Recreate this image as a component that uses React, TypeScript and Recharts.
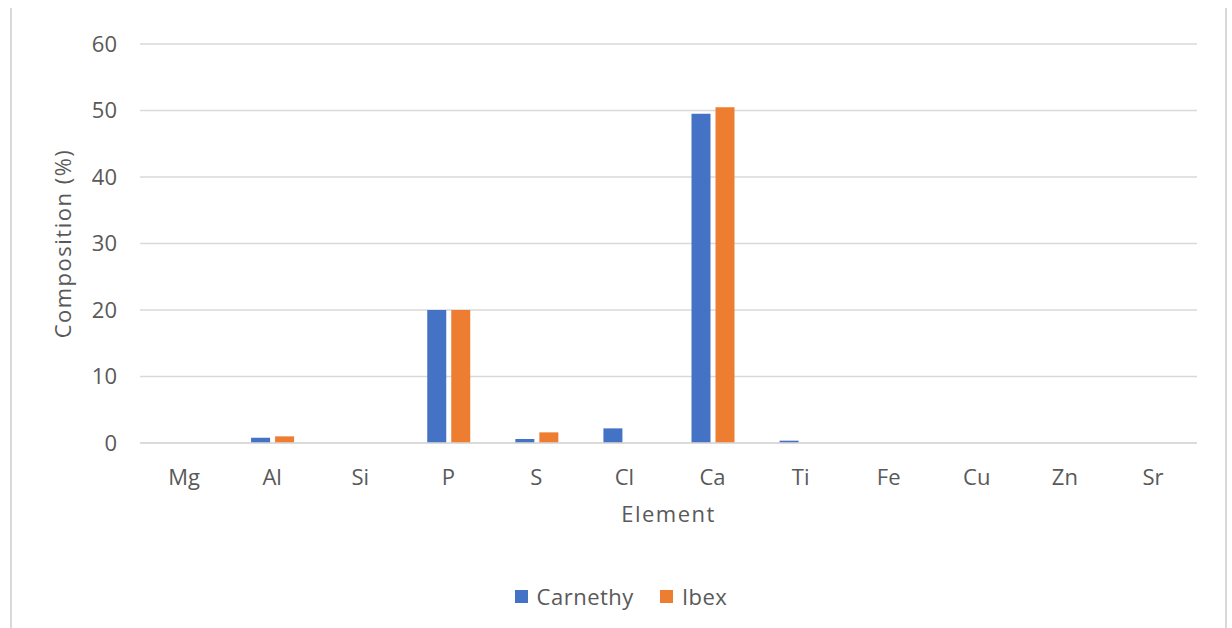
import React from 'react';
import {
  BarChart, Bar, XAxis, YAxis, CartesianGrid, Legend
} from 'recharts';

// element composition by site, in percent
const elements = ['Mg', 'Al', 'Si', 'P', 'S', 'Cl', 'Ca', 'Ti', 'Fe', 'Cu', 'Zn', 'Sr'];
const carnethy = [0, 0.8, 0, 20, 0.6, 2.2, 49.5, 0.35, 0, 0, 0, 0];
const ibex = [0, 1.0, 0, 20, 1.6, 0, 50.5, 0, 0, 0, 0, 0];
const yTicks = [0, 10, 20, 30, 40, 50, 60];

const BLUE = '#4472C4';
const ORANGE = '#ED7D31';
const TEXT = '#595959';
const FONT = '"Open Sans", sans-serif';

const rows = elements.map((el, i) => ({
  element: el,
  Carnethy: carnethy[i],
  Ibex: ibex[i],
}));

const LegendRow = () => (
  <div style={{ display: 'flex', justifyContent: 'center', alignItems: 'center', gap: 26, fontFamily: FONT, fontSize: 22, color: TEXT, paddingLeft: 10 }}>
    {[['Carnethy', BLUE], ['Ibex', ORANGE]].map(([name, color]) => (
      <div key={name} style={{ display: 'flex', alignItems: 'center', gap: 9 }}>
        <span style={{ width: 13, height: 13, background: color, display: 'inline-block' }} />
        <span style={{ letterSpacing: 0.5 }}>{name}</span>
      </div>
    ))}
  </div>
);

const App: React.FC = () => {
  return (
    <div style={{ position: 'absolute', left: 0, top: 0, width: 1232, height: 628, background: '#fff', overflow: 'hidden' }}>
      <div style={{ position: 'absolute', left: 10, top: 8, width: 1213, height: 640, borderLeft: '2px solid #d9d9d9', borderRight: '2px solid #d9d9d9' }} />
      <BarChart
        width={1232}
        height={628}
        data={rows}
        margin={{ top: 44, right: 35, left: 0, bottom: 0 }}
        barSize={19}
        barGap={5}
      >
        <CartesianGrid vertical={false} stroke="#d9d9d9" strokeWidth={1.5} />
        <XAxis
          dataKey="element"
          height={185}
          axisLine={{ stroke: '#d9d9d9', strokeWidth: 1.5 }}
          tickLine={false}
          tickMargin={20}
          tick={{ fill: TEXT, fontSize: 22, fontFamily: FONT }}
          label={{ value: 'Element', position: 'insideTop', offset: 63, fill: TEXT, fontSize: 22, fontFamily: FONT, letterSpacing: 1.5 }}
        />
        <YAxis
          width={140}
          domain={[0, 60]}
          ticks={yTicks}
          axisLine={false}
          tickLine={false}
          tickMargin={17}
          tick={{ fill: TEXT, fontSize: 22, fontFamily: FONT }}
          label={{ value: 'Composition (%)', angle: -90, position: 'insideLeft', offset: 63, fill: TEXT, fontSize: 22, fontFamily: FONT, letterSpacing: 1.5, style: { textAnchor: 'middle' } }}
        />
        <Legend
          content={<LegendRow />}
          wrapperStyle={{ position: 'absolute', left: 0, top: 581, width: 1232, height: 0, overflow: 'visible' }}
        />
        <Bar dataKey="Carnethy" fill={BLUE} isAnimationActive={false} />
        <Bar dataKey="Ibex" fill={ORANGE} isAnimationActive={false} />
      </BarChart>
    </div>
  );
};

export default App;
